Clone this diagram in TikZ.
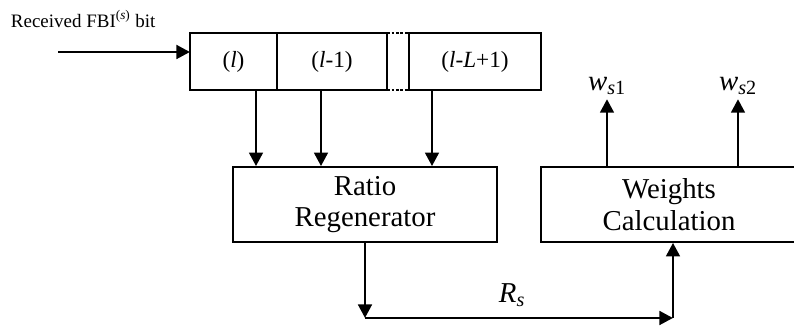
\documentclass[tikz,border=0pt]{standalone}
\usepackage{fontspec}
\setmainfont{Liberation Serif}
\usepackage{tikz}
\usetikzlibrary{arrows.meta,positioning,calc}

\begin{document}
\begin{tikzpicture}[
  cell/.style={rectangle, draw=black, line width=1.2pt, outer sep=0pt, minimum height=1.425cm, inner sep=0pt, font=\fontsize{16.5}{19}\selectfont},
  block/.style={rectangle, draw=black, line width=1.2pt, minimum width=6.6cm, minimum height=1.875cm, align=center, font=\fontsize{20.5}{22.5}\selectfont},
  feeds/.style={-{Triangle[length=3.4mm, width=3.4mm]}, line width=2.1pt},
  gap/.style={line width=1.6pt, dash pattern=on 2pt off 1.2pt}
]
  \useasboundingbox (0,0) rectangle (19.85,8.175);
  % Shift register (top)
  \node[cell, minimum width=2.175cm] (cell1) at (5.8375,6.6375) {(\textit{l})};
  \node[cell, minimum width=2.75cm, right=0pt of cell1] (cell2) {(\textit{l}-1)};
  \node[cell, minimum width=3.3cm, right=0.55cm of cell2] (cell3) {(\textit{l}-\textit{L}+1)};
  \draw[gap] (cell2.north east) -- (cell3.north west);
  \draw[gap] (cell2.south east) -- (cell3.south west);
  % Input
  \coordinate (in) at (1.45,6.875);
  \node[anchor=west, font=\fontsize{13.5}{16}\selectfont] (inlabel) at (0.15,7.7) {Received FBI\textsuperscript{(\textit{s})} bit};
  \draw[feeds] (in) -- (in -| cell1.west);
  % Blocks (bottom)
  \node[block] (ratio) at (9.125,3.0625) {Ratio\\Regenerator};
  \node[block, minimum width=6.4cm] (weights) at (16.725,3.0625) {Weights\\Calculation};
  % Taps: register -> ratio
  \coordinate (tap1) at ($(cell1.south)+(0.5625,0)$);
  \coordinate (tap2) at ($(cell2.south)+(-0.275,0)$);
  \coordinate (tap3) at ($(cell3.south)+(-1.075,0)$);
  \foreach \t in {tap1,tap2,tap3}
    \draw[feeds] (\t) -- (\t |- ratio.north);
  % Outputs of weights
  \coordinate (out1) at ($(weights.north)+(-1.55,0)$);
  \coordinate (out2) at ($(weights.north)+(1.725,0)$);
  \draw[feeds] (out1) -- ++(0,1.675) node[above, inner sep=2pt, font=\fontsize{20.5}{22.5}\selectfont] (ws1) {\textit{w}\textsubscript{\textit{s}1}};
  \draw[feeds] (out2) -- ++(0,1.675) node[above, inner sep=2pt, font=\fontsize{20.5}{22.5}\selectfont] (ws2) {\textit{w}\textsubscript{\textit{s}2}};
  % R_s path
  \coordinate (bend1) at (ratio.south |- 0,0.225);
  \coordinate (bend2) at ($(weights.south |- 0,0.225)+(0.1,0)$);
  \draw[feeds] (ratio.south) -- (bend1);
  \draw[feeds] (bend1) -- (bend2);
  \draw[feeds] (bend2) -- (bend2 |- weights.south);
  \node[font=\fontsize{20.5}{22.5}\selectfont] (rs) at (12.8,0.8) {\textit{R}\textsubscript{\textit{s}}};
\end{tikzpicture}
\end{document}
